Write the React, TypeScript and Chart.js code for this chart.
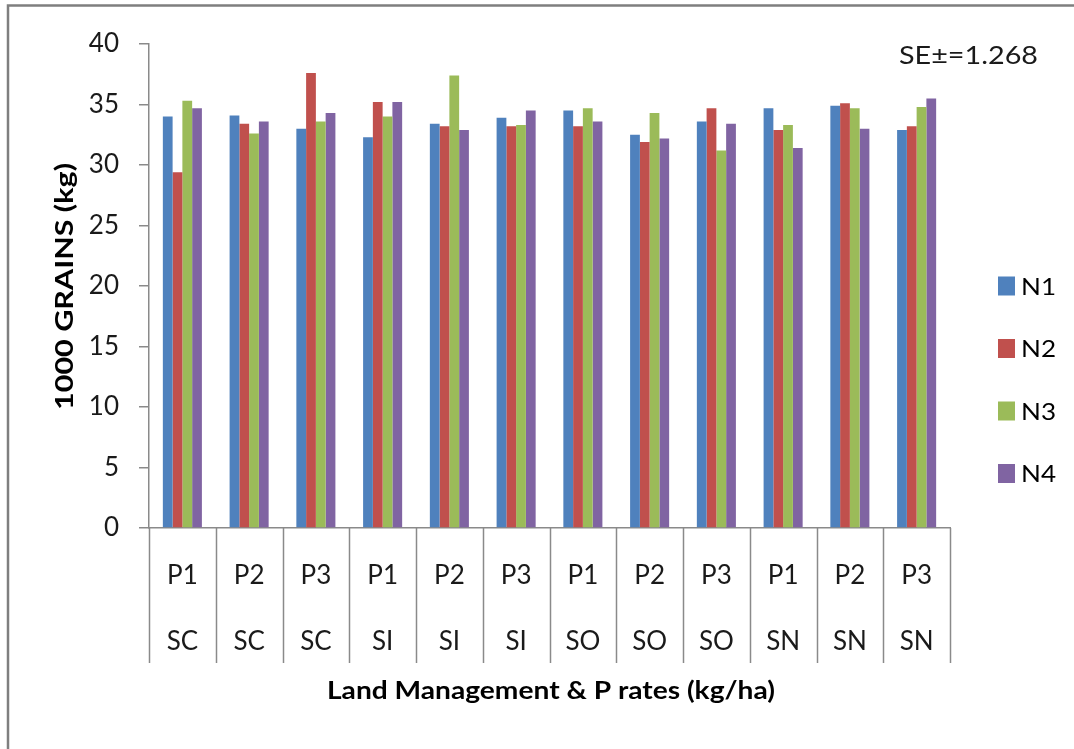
import { useEffect, useRef } from "react";
import { Chart, registerables } from "chart.js";

Chart.register(...registerables);

// P application rates and land-management systems (two-level category axis)
const pRates = ["P1", "P2", "P3", "P1", "P2", "P3", "P1", "P2", "P3", "P1", "P2", "P3"];
const landUse = ["SC", "SC", "SC", "SI", "SI", "SI", "SO", "SO", "SO", "SN", "SN", "SN"];

// 1000-grain weight (kg) for each nitrogen level
const n1 = [34.0, 34.1, 33.0, 32.3, 33.4, 33.9, 34.5, 32.5, 33.6, 34.7, 34.9, 32.9];
const n2 = [29.4, 33.4, 37.6, 35.2, 33.2, 33.2, 33.2, 31.9, 34.7, 32.9, 35.1, 33.2];
const n3 = [35.3, 32.6, 33.6, 34.0, 37.4, 33.3, 34.7, 34.3, 31.2, 33.3, 34.7, 34.8];
const n4 = [34.7, 33.6, 34.3, 35.2, 32.9, 34.5, 33.6, 32.2, 33.4, 31.4, 33.0, 35.5];

const seriesNames = ["N1", "N2", "N3", "N4"];
const seriesValues = [n1, n2, n3, n4];
const seriesColors = ["#4F81BD", "#C0504D", "#9BBB59", "#8064A2"];

const yMin = 0;
const yMax = 40;
const yStep = 5;

const seLabel = "SE\u00B1=1.268";
const yTitle = "1000 GRAINS (kg)";
const xTitle = "Land Management & P rates (kg/ha)";

const FONT = "Lato, 'Open Sans', sans-serif";
const AXIS_GREY = "#8a8a8a";

// Draws text with a horizontal stretch so it spans the given width
function drawStretched(
  ctx: CanvasRenderingContext2D,
  text: string,
  x: number,
  baseline: number,
  font: string,
  width: number,
  align: CanvasTextAlign
) {
  ctx.save();
  ctx.font = font;
  const w = ctx.measureText(text).width || 1;
  ctx.translate(x, baseline);
  ctx.scale(width / w, 1);
  ctx.textAlign = align;
  ctx.textBaseline = "alphabetic";
  ctx.fillText(text, 0, 0);
  ctx.restore();
}

const decorations = {
  id: "decorations",
  afterDraw(chart: any) {
    const ctx: CanvasRenderingContext2D = chart.ctx;
    const xs = chart.scales.x;
    const area = chart.chartArea;
    const n = pRates.length;
    const step = (xs.right - xs.left) / n;

    ctx.save();

    // frame around the figure
    ctx.strokeStyle = "#7f7f7f";
    ctx.lineWidth = 2.5;
    ctx.beginPath();
    ctx.moveTo(8, chart.height);
    ctx.lineTo(8, 5.5);
    ctx.lineTo(chart.width, 5.5);
    ctx.stroke();

    // category separators below the axis
    ctx.strokeStyle = AXIS_GREY;
    ctx.lineWidth = 1.5;
    ctx.beginPath();
    for (let i = 0; i <= n; i++) {
      const x = Math.round(xs.left + i * step) + 0.5;
      ctx.moveTo(x, area.bottom);
      ctx.lineTo(x, area.bottom + 135);
    }
    ctx.stroke();

    // two-level category labels
    ctx.fillStyle = "#1a1a1a";
    ctx.font = `26px ${FONT}`;
    ctx.textAlign = "center";
    ctx.textBaseline = "alphabetic";
    for (let i = 0; i < n; i++) {
      const cx = xs.getPixelForValue(i);
      ctx.fillText(pRates[i], cx, area.bottom + 56);
      ctx.fillText(landUse[i], cx, area.bottom + 122);
    }

    // axis titles
    ctx.fillStyle = "#000";
    drawStretched(ctx, xTitle, 551, 699, `bold 25px ${FONT}`, 448, "center");
    ctx.save();
    ctx.translate(64, 286.5);
    ctx.rotate(-Math.PI / 2);
    drawStretched(ctx, yTitle, 0, 8.5, `bold 24px ${FONT}`, 247, "center");
    ctx.restore();

    // standard error note
    ctx.fillStyle = "#1a1a1a";
    drawStretched(ctx, seLabel, 899, 64, `25px ${FONT}`, 139, "left");

    // legend
    ctx.font = `24px ${FONT}`;
    const legendScale = 35 / (ctx.measureText("N1").width || 1);
    const legendTop = 286;
    const legendGap = 62.5;
    seriesNames.forEach((name, i) => {
      const cy = legendTop + i * legendGap;
      ctx.fillStyle = seriesColors[i];
      ctx.fillRect(998, cy - 9.5, 17, 19);
      ctx.fillStyle = "#000";
      ctx.save();
      ctx.font = `24px ${FONT}`;
      ctx.translate(1021, cy + 8.5);
      ctx.scale(legendScale, 1);
      ctx.textAlign = "left";
      ctx.fillText(name, 0, 0);
      ctx.restore();
    });

    ctx.restore();
  },
};

export default function App() {
  const canvasRef = useRef<HTMLCanvasElement | null>(null);

  useEffect(() => {
    const canvas = canvasRef.current;
    if (!canvas) return;
    const chart = new Chart(canvas, {
      type: "bar",
      data: {
        labels: pRates.map((p, i) => `${p} ${landUse[i]}`),
        datasets: seriesNames.map((name, i) => ({
          label: name,
          data: seriesValues[i],
          backgroundColor: seriesColors[i],
          borderWidth: 0,
          categoryPercentage: 0.585,
          barPercentage: 1,
        })),
      },
      options: {
        animation: false,
        responsive: false,
        devicePixelRatio: 1,
        layout: { padding: { left: 0, top: 44, right: 124, bottom: 221 } },
        plugins: {
          legend: { display: false },
          tooltip: { enabled: false },
        },
        scales: {
          x: {
            type: "category",
            grid: { display: true, drawOnChartArea: false, drawTicks: false, color: AXIS_GREY },
            ticks: { display: false },
            border: { display: true, color: AXIS_GREY, width: 1.5 },
            afterFit: (s: any) => {
              s.height = 0;
            },
          },
          y: {
            min: yMin,
            max: yMax,
            ticks: {
              stepSize: yStep,
              font: { family: FONT, size: 26 },
              color: "#1a1a1a",
              padding: 20,
            },
            grid: {
              drawOnChartArea: false,
              drawTicks: true,
              tickLength: 10,
              color: AXIS_GREY,
              lineWidth: 1.5,
            },
            border: { display: true, color: AXIS_GREY, width: 1.5 },
            afterFit: (s: any) => {
              s.width = 149;
            },
          },
        },
      },
      plugins: [decorations],
    });
    return () => chart.destroy();
  }, []);

  return (
    <div
      style={{
        position: "fixed",
        left: 0,
        top: 0,
        width: 1074,
        height: 749,
        background: "#fff",
      }}
    >
      <canvas ref={canvasRef} width={1074} height={749} style={{ display: "block" }} />
    </div>
  );
}
